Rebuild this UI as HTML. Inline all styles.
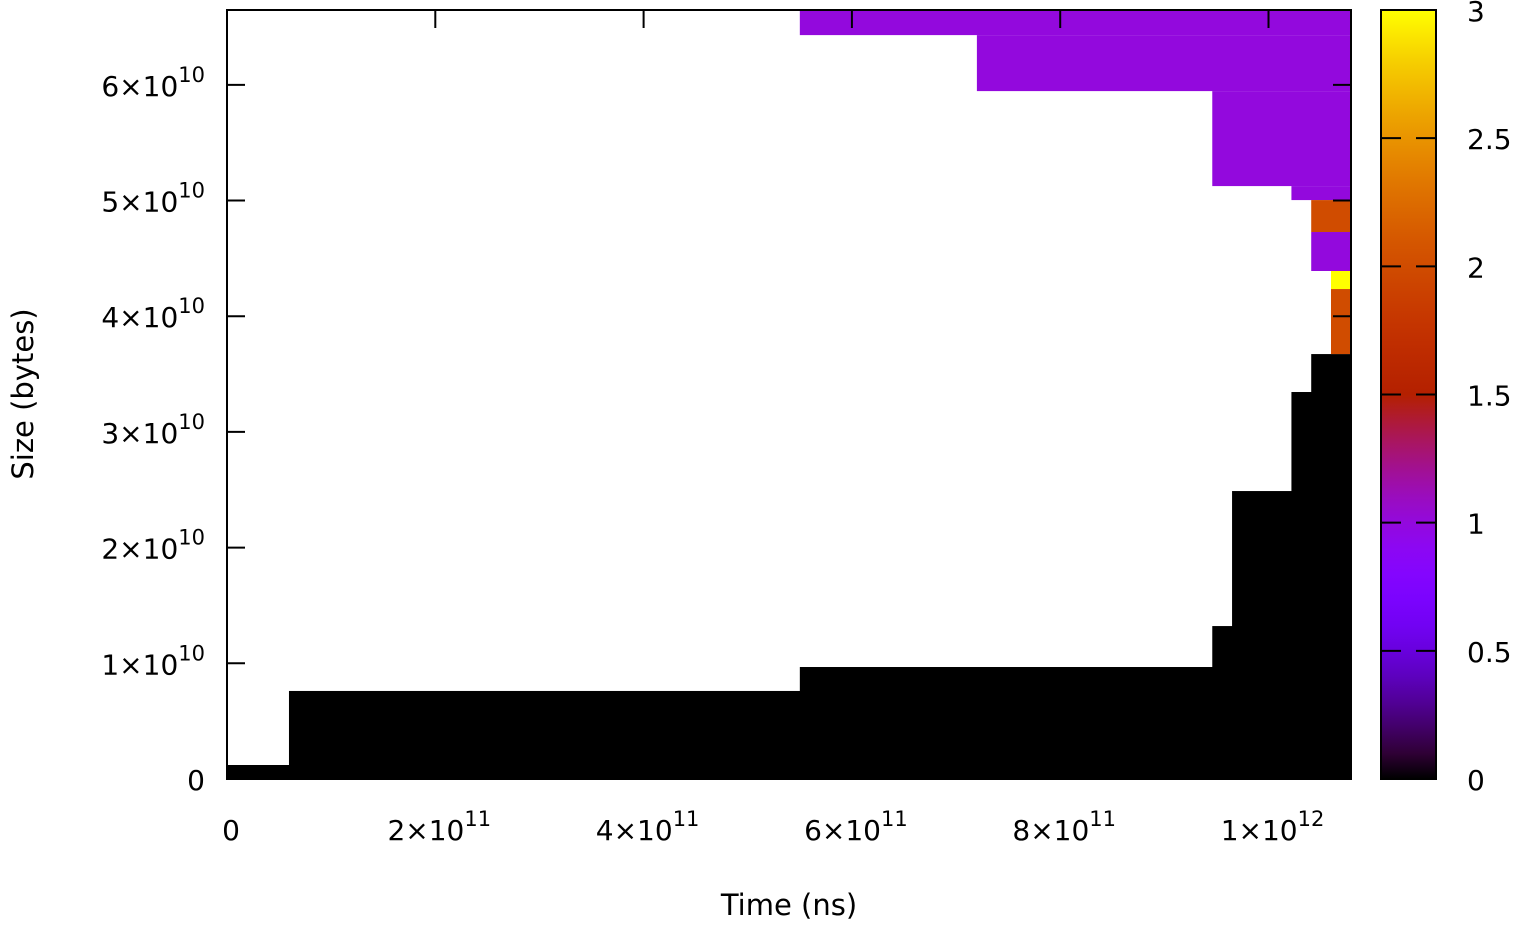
<!DOCTYPE html>
<html><head><meta charset="utf-8">
<style>
html,body{margin:0;padding:0;background:#fff;}
svg text{font-family:"DejaVu Sans","Liberation Sans",sans-serif;fill:#000;}
</style></head>
<body>
<svg id="chart" width="1518" height="928" viewBox="0 0 1518 928" xmlns="http://www.w3.org/2000/svg">
<defs>
<linearGradient id="cbgrad" x1="0" y1="1" x2="0" y2="0"></linearGradient>
<clipPath id="plotclip"><rect x="227" y="10" width="1124" height="769"/></clipPath>
</defs>
<g id="marks" clip-path="url(#plotclip)"></g>
<g id="axes"></g>
</svg>
<script>
// ---- data ----
const stepTimes = [0, 0.0595e12, 0.550e12, 0.946e12, 0.965e12, 1.022e12, 1.041e12, 1.079e12];
const stepHeights = [0.121e10, 0.761e10, 0.968e10, 1.322e10, 2.489e10, 3.345e10, 3.673e10];
// band rectangles: start time, end time, low size, high size, value
const bandStart = [0.550e12, 0.720e12, 0.946e12, 1.022e12, 1.041e12, 1.041e12, 1.060e12, 1.060e12];
const bandEnd   = [1.079e12, 1.079e12, 1.079e12, 1.079e12, 1.079e12, 1.079e12, 1.079e12, 1.079e12];
const bandLow   = [6.430e10, 5.946e10, 5.125e10, 5.004e10, 4.728e10, 4.391e10, 4.235e10, 3.673e10];
const bandHigh  = [6.650e10, 6.430e10, 5.946e10, 5.125e10, 5.004e10, 4.728e10, 4.391e10, 4.235e10];
const bandValue = [1, 1, 1, 1, 2, 1, 3, 2];
const xTicks = [0, 2e11, 4e11, 6e11, 8e11, 1e12];
const xTickMant = ["0", "2", "4", "6", "8", "1"];
const xTickExp = ["", "11", "11", "11", "11", "12"];
const yTicks = [0, 1e10, 2e10, 3e10, 4e10, 5e10, 6e10];
const yTickMant = ["0", "1", "2", "3", "4", "5", "6"];
const yTickExp = ["", "10", "10", "10", "10", "10", "10"];
const cbTicks = [0, 0.5, 1, 1.5, 2, 2.5, 3];
const cbLabels = ["0", "0.5", "1", "1.5", "2", "2.5", "3"];

// ---- scales ----
const X0 = 227, X1 = 1351, Y0 = 779, Y1 = 10;
const xMax = 1.0792e12, yMax = 6.647e10, cMax = 3;
const sx = v => X0 + v / xMax * (X1 - X0);
const sy = v => Y0 - v / yMax * (Y0 - Y1);
const CBX = 1381, CBW = 55;
const sc = v => Y0 - v / cMax * (Y0 - Y1);
function pal(v) {
  const x = Math.max(0, Math.min(1, v / cMax));
  const r = Math.sqrt(x), g = x * x * x, b = Math.max(0, Math.sin(2 * Math.PI * x));
  return `rgb(${Math.round(r*255)},${Math.round(g*255)},${Math.round(b*255)})`;
}
const NS = "http://www.w3.org/2000/svg";
function mk(tag, attrs, parent) {
  const e = document.createElementNS(NS, tag);
  for (const k in attrs) e.setAttribute(k, attrs[k]);
  parent.appendChild(e);
  return e;
}
const marks = document.getElementById("marks");
const axes = document.getElementById("axes");

for (let i = 0; i < stepHeights.length; i++) {
  const r = mk("rect", {x: sx(stepTimes[i]), y: sy(stepHeights[i]), width: sx(stepTimes[i+1]) - sx(stepTimes[i]) + 0.5, height: sy(0) - sy(stepHeights[i]) + 1, fill: pal(0)}, marks);
  
  
}
for (let i = 0; i < bandValue.length; i++) {
  const r = mk("rect", {x: sx(bandStart[i]), y: sy(bandHigh[i]), width: sx(bandEnd[i]) - sx(bandStart[i]), height: sy(bandLow[i]) - sy(bandHigh[i]), fill: pal(bandValue[i])}, marks);
  
  
}

const frame = mk("rect", {x: X0, y: Y1, width: X1 - X0, height: Y0 - Y1, fill: "none", stroke: "#000", "stroke-width": 2}, axes);



function tickLabel(x, y, mant, exp, anchor, name) {
  const t = mk("text", {x: x, y: y, "font-size": 28, "text-anchor": anchor}, axes);
  
  
  if (exp) {
    const a = mk("tspan", {}, t); a.textContent = mant + "×10";
    const b = mk("tspan", {"font-size": 21, dy: -14}, t); b.textContent = exp;
  } else t.textContent = mant;
}
for (let i = 0; i < xTicks.length; i++) {
  const x = sx(xTicks[i]);
  mk("line", {x1: x, y1: Y0, x2: x, y2: Y0 - 18, stroke: "#000", "stroke-width": 2}, axes);
  mk("line", {x1: x, y1: Y1, x2: x, y2: Y1 + 18, stroke: "#000", "stroke-width": 2}, axes);
  tickLabel(x + 4, 840, xTickMant[i], xTickExp[i], "middle", 'x-tick-label');
}
for (let i = 0; i < yTicks.length; i++) {
  const y = sy(yTicks[i]);
  mk("line", {x1: X0, y1: y, x2: X0 + 18, y2: y, stroke: "#000", "stroke-width": 2}, axes);
  mk("line", {x1: X1, y1: y, x2: X1 - 18, y2: y, stroke: "#000", "stroke-width": 2}, axes);
  tickLabel(205, y + 11, yTickMant[i], yTickExp[i], "end", 'y-tick-label');
}
const xt = mk("text", {x: 789, y: 915, "font-size": 29, "text-anchor": "middle"}, axes);
xt.textContent = "Time (ns)";


const yt = mk("text", {x: 0, y: 0, "font-size": 29, "text-anchor": "middle", transform: "translate(33,394) rotate(-90)"}, axes);
yt.textContent = "Size (bytes)";



const grad = document.getElementById("cbgrad");
for (let k = 0; k <= 30; k++) {
  mk("stop", {offset: (k / 30), "stop-color": pal(k / 30 * cMax)}, grad);
}
const cb = mk("rect", {x: CBX, y: Y1, width: CBW, height: Y0 - Y1, fill: "url(#cbgrad)", stroke: "#000", "stroke-width": 2}, axes);


for (let i = 0; i < cbTicks.length; i++) {
  const y = sc(cbTicks[i]);
  mk("line", {x1: CBX, y1: y, x2: CBX + 20, y2: y, stroke: "#000", "stroke-width": 2}, axes);
  mk("line", {x1: CBX + CBW, y1: y, x2: CBX + CBW - 20, y2: y, stroke: "#000", "stroke-width": 2}, axes);
  const t = mk("text", {x: 1467, y: y + 11, "font-size": 28}, axes);
  t.textContent = cbLabels[i];
  
  
}
</script>
</body></html>
